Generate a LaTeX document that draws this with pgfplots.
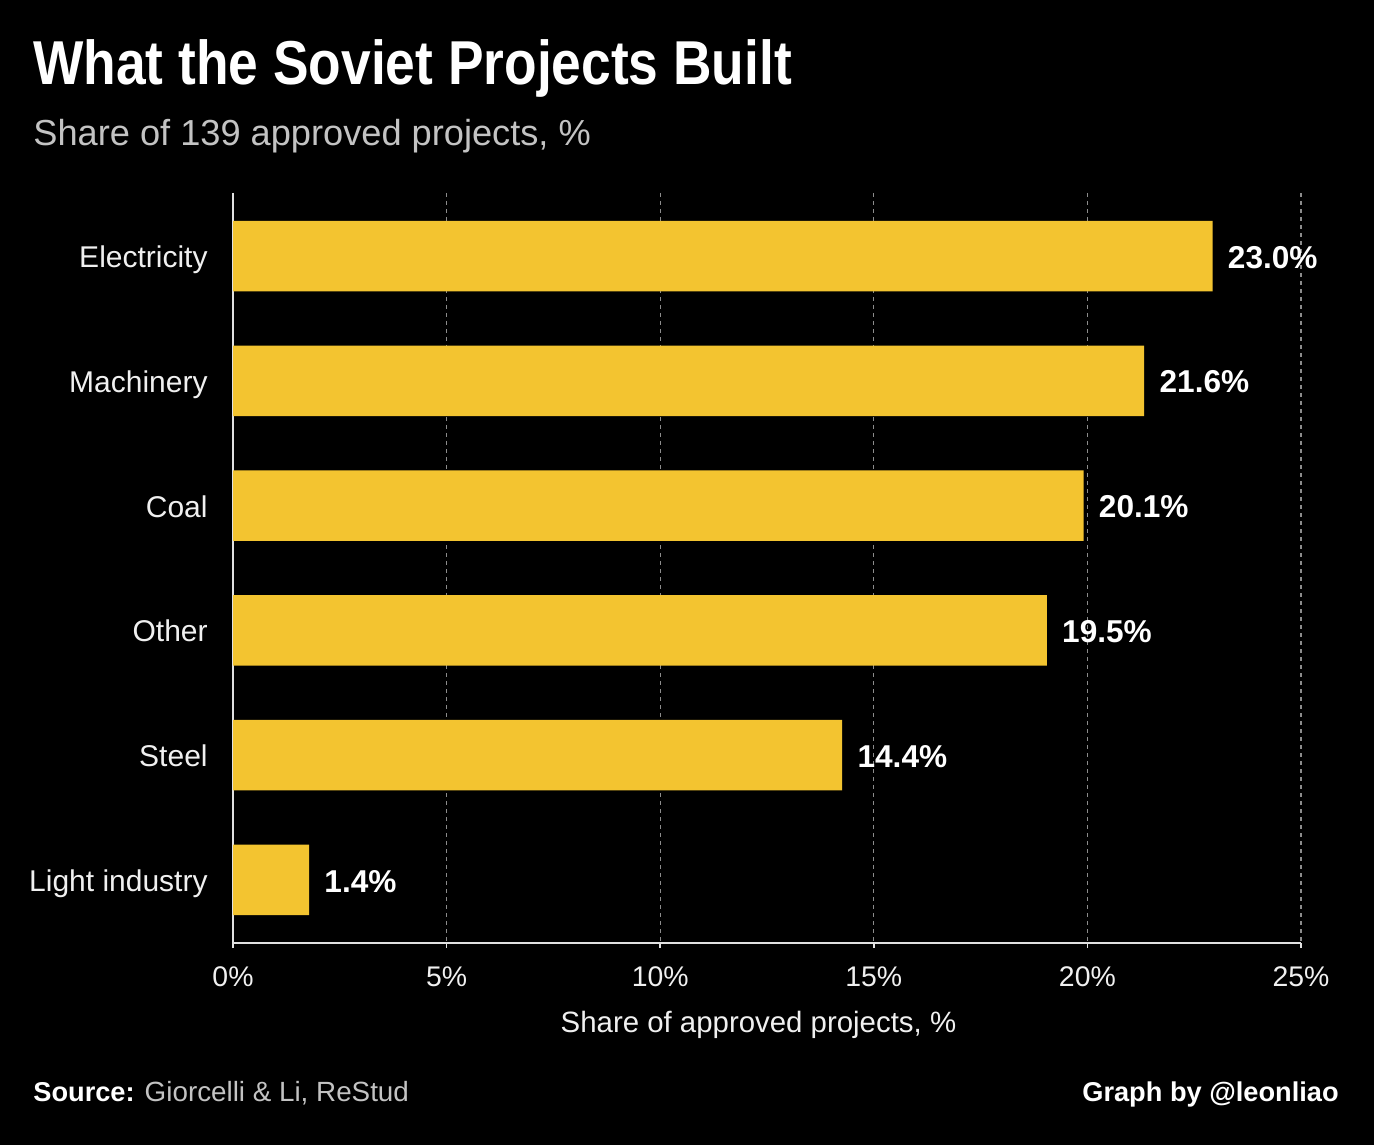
\documentclass[border=0pt]{standalone}
\usepackage{fontspec}
\setmainfont{Liberation Sans}
\newfontfamily\titlefont{Liberation Sans}[FakeStretch=0.86]
\usepackage{pgfplots}
\pgfplotsset{compat=1.18}
\definecolor{baryellow}{RGB}{243,196,48}
\definecolor{axisgray}{RGB}{225,225,225}
\definecolor{gridgray}{RGB}{140,140,140}
\definecolor{subgray}{RGB}{195,195,195}
\definecolor{lbl}{RGB}{240,240,240}
\begin{document}
\begin{tikzpicture}
\path[use as bounding box] (0,0) rectangle (687pt,572.5pt);
\fill[black] (0,0) rectangle (687pt,572.5pt);
\node[anchor=base west, inner sep=0, text=white, font=\titlefont\bfseries\fontsize{31}{37}\selectfont] at (16.5pt,530pt) {What the Soviet Projects Built};
\node[anchor=base west, inner sep=0, text=subgray, font=\fontsize{18.1}{22}\selectfont] at (16.5pt,499.5pt) {Share of 139 approved projects, \%};
\node[anchor=base west, inner sep=0, text=white, font=\fontsize{13.6}{16}\selectfont] at (16.5pt,22pt) {\textbf{Source:} \textcolor{subgray}{\fontsize{13.9}{16}\selectfont Giorcelli \& Li, ReStud}};
\node[anchor=base east, inner sep=0, text=white, font=\bfseries\fontsize{13.6}{16}\selectfont] at (669.5pt,22pt) {Graph by @leonliao};
\begin{axis}[
  at={(116.5pt,101pt)}, anchor=south west,
  scale only axis, width=534pt, height=375pt,
  xmin=0, xmax=25, ymin=-0.505, ymax=5.505,
  y dir=reverse,
  xbar, bar width=35.25pt,
  clip=false,
  axis x line*=bottom, axis y line*=left,
  axis line style={draw=axisgray, line width=1pt, -},
  xtick={0,5,10,15,20,25},
  xticklabels={0\%,5\%,10\%,15\%,20\%,25\%},
  ytick={0,1,2,3,4,5},
  yticklabels={Electricity,Machinery,Coal,Other,Steel,Light industry},
  tick align=outside, major tick length=2.5pt,
  xtick style={draw=axisgray, line width=0.8pt},
  ytick style={draw=none},
  xmajorgrids,
  grid style={draw=gridgray, line width=0.6pt, dash pattern=on 2pt off 2pt},
  xticklabel style={text=lbl, font=\fontsize{14.2}{17}\selectfont, inner sep=0, anchor=north, yshift=-9.3pt},
  yticklabel style={text=lbl, font=\fontsize{15}{18}\selectfont, inner sep=0, anchor=east, xshift=-10pt, text height=10.8pt, text depth=0pt, yshift=-0.3pt},
  xlabel={Share of approved projects, \%},
  xlabel style={at={(axis description cs:0.492,0)}, anchor=base, yshift=-44.75pt, inner sep=0, text=lbl, font=\fontsize{14.7}{18}\selectfont},
]
\addplot[fill=baryellow, draw=none, point meta=explicit symbolic,
  nodes near coords,
  nodes near coords style={anchor=west, inner sep=0, xshift=7.5pt, yshift=-0.6pt, text=white, font=\bfseries\fontsize{15.8}{19}\selectfont}]
coordinates {
(22.93,0) [23.0\%]
(21.33,1) [21.6\%]
(19.91,2) [20.1\%]
(19.05,3) [19.5\%]
(14.26,4) [14.4\%]
(1.78,5) [1.4\%]
};
\end{axis}
\end{tikzpicture}
\end{document}
